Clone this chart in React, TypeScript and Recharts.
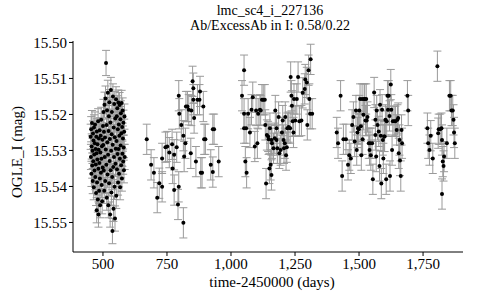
import React from 'react';
import { ScatterChart, Scatter, XAxis, YAxis, ErrorBar } from 'recharts';

// [day (time-2450000), OGLE_I mag]
const season1: [number, number][] = [
  [452, 15.5262], [453, 15.5318], [454, 15.5241], [455, 15.5365], [456, 15.5289], [457, 15.5224], [458, 15.5342], [459, 15.5301],
  [460, 15.5385], [461, 15.5253], [462, 15.533], [463, 15.5272], [464, 15.5402], [465, 15.5236], [466, 15.5311], [467, 15.5356],
  [468, 15.528], [469, 15.5228], [470, 15.5374], [471, 15.5296], [472, 15.5339], [473, 15.5418], [474, 15.5262], [475, 15.5308],
  [475.5, 15.5466], [476, 15.5247], [477, 15.5389], [478, 15.5325], [479, 15.5283], [480, 15.5436], [481, 15.5219], [482, 15.5351],
  [482.5, 15.5478], [483, 15.5298], [484, 15.5267], [485, 15.5412], [486, 15.5335], [487, 15.5244], [488, 15.5378], [489, 15.5452],
  [490, 15.5306], [491, 15.5259], [492, 15.5362], [493, 15.5215], [494, 15.5323], [495, 15.5396], [496, 15.5288], [497, 15.5441],
  [498, 15.527], [499, 15.5347], [500, 15.5232],
  [501, 15.5285], [502, 15.5193], [503, 15.5356], [504, 15.5248], [505, 15.5412], [506, 15.5173], [507, 15.5318], [508, 15.5264],
  [509, 15.5385], [510, 15.5156], [511, 15.5297], [512, 15.5057], [513, 15.534], [514, 15.5229], [515, 15.5431], [516, 15.5188],
  [517, 15.5277], [518, 15.5367], [519, 15.514], [520, 15.5312], [521, 15.5452], [522, 15.5246], [523, 15.5205], [524, 15.5391],
  [525, 15.5166], [526, 15.5329], [527, 15.5268], [528, 15.5478], [529, 15.5222], [530, 15.5355], [531, 15.5132], [532, 15.5301],
  [533, 15.5417], [534, 15.5255], [535, 15.5193], [536, 15.5374], [537, 15.5524], [538, 15.5284], [539, 15.515], [540, 15.5346],
  [541, 15.5462], [542, 15.5236], [543, 15.5318], [544, 15.5171], [545, 15.5401], [546, 15.5263], [547, 15.5489], [548, 15.5211],
  [549, 15.5337], [550, 15.5295], [551, 15.5158], [552, 15.5426],
  [553, 15.5274], [554, 15.5205], [555, 15.5352], [556, 15.5183], [557, 15.531], [558, 15.5241], [559, 15.5389], [560, 15.5167],
  [561, 15.5296], [562, 15.5228], [563, 15.5365], [564, 15.5259], [565, 15.5174], [566, 15.5323], [567, 15.5402], [568, 15.5213],
  [569, 15.5286], [570, 15.5197], [571, 15.5341], [572, 15.5252], [573, 15.5168], [574, 15.5378], [575, 15.5235], [576, 15.5309],
  [577, 15.5189], [578, 15.5267], [579, 15.5331], [580, 15.5223], [581, 15.5292], [582, 15.5355], [583, 15.5248], [584, 15.5206],
  [585, 15.5318],
];

const season2: [number, number][] = [
  [671, 15.5269], [688, 15.534], [699, 15.5362], [712, 15.5431], [720, 15.5391], [731, 15.5322], [731, 15.5401], [744, 15.5291],
  [751, 15.5289], [759, 15.5306], [770, 15.5283], [772, 15.535], [778, 15.5312], [778, 15.541], [788, 15.5291], [793, 15.545],
  [796, 15.5148], [796, 15.5401], [798, 15.5198], [806, 15.5229], [814, 15.5259], [817, 15.5317], [814, 15.5501], [822, 15.528],
  [824, 15.5178], [830, 15.5178], [835, 15.5187], [843, 15.5308], [845, 15.5189], [850, 15.5108], [853, 15.5127], [853, 15.5159],
  [856, 15.521], [863, 15.5331], [869, 15.5159], [877, 15.5159], [879, 15.5136], [882, 15.5362], [887, 15.5362], [892, 15.5178],
  [895, 15.5269], [900, 15.5269], [921, 15.534], [929, 15.536], [929, 15.5241], [934, 15.5241], [952, 15.5331],
];

const season3: [number, number][] = [
  [1043, 15.5148], [1051, 15.5077], [1051, 15.5198], [1051, 15.5238], [1056, 15.5331], [1061, 15.5362], [1059, 15.5238], [1067, 15.5198],
  [1074, 15.525], [1080, 15.5187], [1085, 15.5152], [1093, 15.5289], [1098, 15.5189], [1103, 15.528], [1106, 15.5198], [1113, 15.5187],
  [1116, 15.5189], [1121, 15.5159], [1126, 15.5159], [1132, 15.5159], [1134, 15.5229], [1137, 15.5392], [1140, 15.5257], [1145, 15.5261],
  [1147, 15.5269], [1150, 15.535], [1152, 15.5238], [1155, 15.534], [1158, 15.5271], [1158, 15.5368], [1160, 15.528], [1166, 15.5294],
  [1171, 15.5266], [1173, 15.5189], [1178, 15.5271], [1178, 15.5238], [1181, 15.5294], [1186, 15.5207], [1189, 15.5308], [1194, 15.5299],
  [1199, 15.525], [1202, 15.5217], [1205, 15.5271], [1207, 15.5294], [1210, 15.528], [1212, 15.5207], [1215, 15.5313], [1218, 15.5291],
  [1220, 15.5238], [1225, 15.5235], [1231, 15.5238], [1233, 15.5096], [1236, 15.5148], [1238, 15.5176], [1241, 15.5219], [1244, 15.525],
  [1246, 15.5157], [1251, 15.5217], [1257, 15.5157], [1262, 15.5096], [1267, 15.5219], [1275, 15.5217], [1280, 15.514], [1288, 15.5129],
  [1290, 15.5103], [1296, 15.5111], [1298, 15.5229], [1303, 15.5077], [1306, 15.5157], [1309, 15.5198], [1311, 15.5047], [1317, 15.5198],
];

const season4: [number, number][] = [
  [1413, 15.525], [1418, 15.528], [1428, 15.5148], [1434, 15.5371], [1439, 15.5269], [1449, 15.5269], [1457, 15.534], [1462, 15.5313],
  [1468, 15.5322], [1473, 15.5229], [1478, 15.5207], [1483, 15.5275], [1488, 15.5189], [1491, 15.5299], [1494, 15.525], [1496, 15.5238],
  [1499, 15.5241], [1501, 15.5189], [1504, 15.5157], [1507, 15.5233], [1509, 15.5313], [1512, 15.5157], [1514, 15.5269], [1517, 15.5201],
  [1520, 15.5157], [1522, 15.5157], [1525, 15.5217], [1528, 15.5157], [1530, 15.5217], [1533, 15.5207], [1538, 15.528], [1541, 15.5299],
  [1543, 15.528], [1546, 15.5313], [1551, 15.528], [1554, 15.538], [1559, 15.5139], [1564, 15.5257], [1564, 15.5215], [1567, 15.5317],
  [1569, 15.5189], [1572, 15.5229], [1577, 15.5247], [1580, 15.5343], [1582, 15.5173], [1585, 15.5259], [1587, 15.5392], [1590, 15.5187],
  [1593, 15.5271], [1595, 15.5322], [1598, 15.5261], [1600, 15.5261], [1603, 15.5215], [1606, 15.538], [1608, 15.5219], [1611, 15.5148],
  [1613, 15.5187], [1616, 15.5148], [1619, 15.5204], [1621, 15.5371], [1624, 15.5117], [1626, 15.5187], [1629, 15.5299], [1632, 15.5219],
  [1637, 15.5219], [1642, 15.5219], [1647, 15.5243], [1650, 15.5215], [1653, 15.521], [1655, 15.5308], [1658, 15.5271], [1660, 15.5328],
  [1663, 15.5371], [1666, 15.5243], [1668, 15.528], [1689, 15.5148], [1692, 15.5189],
];

const season5: [number, number][] = [
  [1767, 15.5238], [1770, 15.528], [1775, 15.5299], [1780, 15.5259], [1788, 15.5322], [1806, 15.5066], [1809, 15.5252], [1811, 15.5241],
  [1817, 15.5241], [1822, 15.5238], [1824, 15.5271], [1824, 15.5421], [1827, 15.5331], [1830, 15.5343], [1832, 15.5317], [1843, 15.528],
  [1853, 15.5148], [1858, 15.5148], [1861, 15.5189], [1866, 15.5189], [1869, 15.5215], [1871, 15.525], [1874, 15.528],
];

const seasonErrors = [0.0035, 0.0042, 0.0042, 0.0042, 0.0042];
const seasons = [season1, season2, season3, season4, season5];

const xTicks = [500, 750, 1000, 1250, 1500, 1750];
const yTicks = [15.5, 15.51, 15.52, 15.53, 15.54, 15.55];
const xDomain: [number, number] = [383, 1906];
const yDomain: [number, number] = [15.4996, 15.5582];

const titleLine1 = 'lmc_sc4_i_227136';
const titleLine2 = 'Ab/ExcessAb in I: 0.58/0.22';
const xLabel = 'time-2450000 (days)';
const yLabel = 'OGLE_I (mag)';

const data = seasons.flatMap((s, i) =>
  s.map(([day, mag]) => ({ day, mag, err: seasonErrors[i] }))
);

const FONT = '"Liberation Serif", "Times New Roman", serif';

const Dot = (props: any) => {
  const { cx, cy } = props;
  if (cx == null || cy == null) return null;
  return <circle cx={cx} cy={cy} r={2} fill="#000" />;
};

export default function App() {
  return (
    <div style={{ position: 'absolute', left: 0, top: 0, width: 480, height: 300, background: '#fff' }}>
      <ScatterChart width={480} height={300} margin={{ top: 41, right: 17, bottom: 0, left: 0 }}>
        <XAxis
          type="number"
          dataKey="day"
          domain={xDomain}
          ticks={xTicks}
          allowDataOverflow
          height={48}
          tickFormatter={(v: number) => v.toLocaleString('en-US')}
          tick={{ fill: '#000', fontSize: 15, fontFamily: FONT }}
          tickSize={4}
          axisLine={{ stroke: '#000' }}
          tickLine={{ stroke: '#000' }}
        />
        <XAxis
          xAxisId="top"
          type="number"
          dataKey="day"
          orientation="top"
          domain={xDomain}
          height={0}
          tick={false}
          tickLine={false}
          axisLine={{ stroke: '#000' }}
        />
        <YAxis
          type="number"
          dataKey="mag"
          reversed
          domain={yDomain}
          ticks={yTicks}
          allowDataOverflow
          width={73}
          tickFormatter={(v: number) => v.toFixed(2)}
          tick={{ fill: '#000', fontSize: 15, fontFamily: FONT }}
          tickSize={4}
          axisLine={{ stroke: '#000' }}
          tickLine={{ stroke: '#000' }}
        />
        <YAxis
          yAxisId="right"
          type="number"
          dataKey="mag"
          orientation="right"
          reversed
          domain={yDomain}
          width={0}
          tick={false}
          tickLine={false}
          axisLine={{ stroke: '#000' }}
        />
        <Scatter data={data} dataKey="mag" shape={<Dot />} isAnimationActive={false}>
          <ErrorBar dataKey="err" direction="y" width={4} stroke="#9a9a9a" strokeWidth={1} />
        </Scatter>
      </ScatterChart>
      <svg width={480} height={300} style={{ position: 'absolute', left: 0, top: 0, pointerEvents: 'none' }}>
        <text x={270} y={15} textAnchor="middle" fontFamily={FONT} fontSize={14} fill="#000">{titleLine1}</text>
        <text x={270} y={30} textAnchor="middle" fontFamily={FONT} fontSize={14} fill="#000">{titleLine2}</text>
        <text x={272} y={287} textAnchor="middle" fontFamily={FONT} fontSize={15} fill="#000">{xLabel}</text>
        <text x={22} y={152} textAnchor="middle" fontFamily={FONT} fontSize={15} fill="#000" transform="rotate(-90 22 152)">{yLabel}</text>
      </svg>
    </div>
  );
}
